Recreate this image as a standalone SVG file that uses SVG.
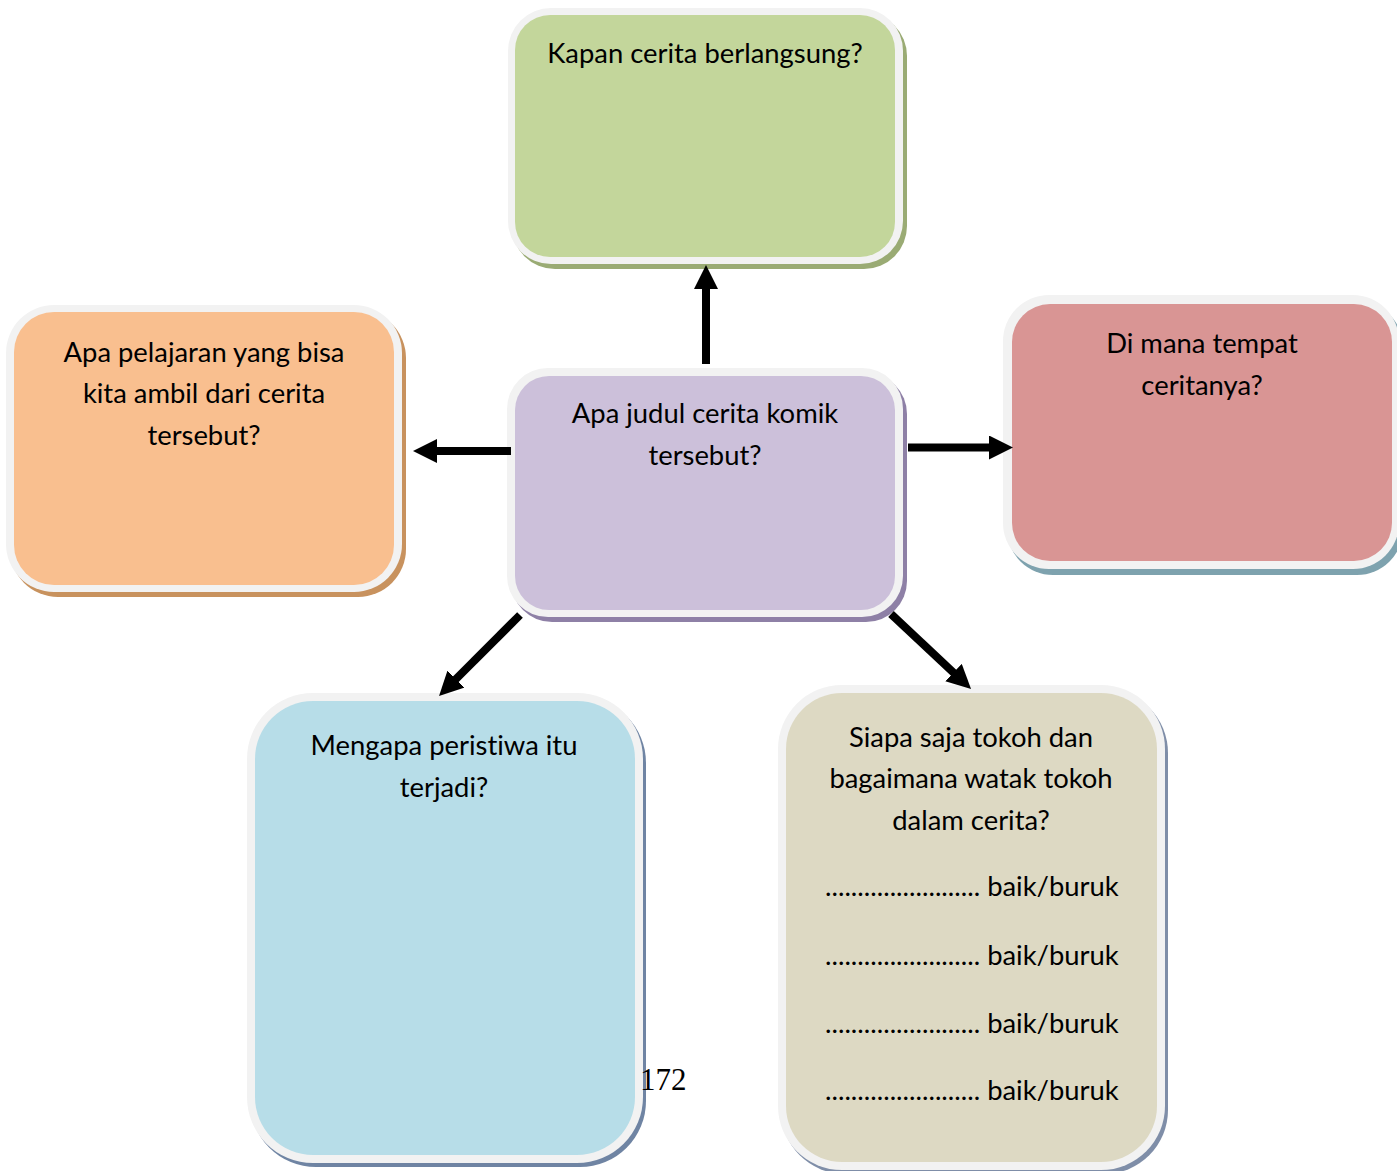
<svg xmlns="http://www.w3.org/2000/svg" width="1397" height="1171" viewBox="0 0 1397 1171">
<style>
.outer{fill:#f2f2f2}
.t{font-family:Lato,"Liberation Sans",sans-serif;font-size:27.4px;fill:#000;text-anchor:middle;font-variant-ligatures:none}
.tl{font-family:Lato,"Liberation Sans",sans-serif;font-size:27.4px;fill:#000;font-variant-ligatures:none}
.conn line{stroke:#000;stroke-width:8;marker-end:url(#ah)}
</style>
<defs>
<marker id="ah" markerUnits="userSpaceOnUse" markerWidth="24" markerHeight="24" viewBox="0 0 24 24" refX="12" refY="12" orient="auto">
<path d="M0,0 L24,12 L0,24 z" fill="#000"/>
</marker>
</defs>
<rect width="1397" height="1171" fill="#fff"/>

<g id="node-kapan">
<rect x="512" y="13" width="395" height="256" rx="43" fill="#9aab74"/>
<rect class="outer" x="508" y="8" width="395" height="256" rx="43"/>
<rect x="515" y="15" width="380" height="242" rx="35" fill="#c3d69b"/>
<text class="t" x="705" y="63">Kapan cerita berlangsung?</text>
</g>

<g id="node-judul">
<rect x="511" y="373" width="396" height="249" rx="41" fill="#8e80a6"/>
<rect class="outer" x="507" y="368" width="396" height="249" rx="41"/>
<rect x="515" y="376" width="380" height="234" rx="34" fill="#ccc0da"/>
<text class="t" x="705" y="423">Apa judul cerita komik</text>
<text class="t" x="705" y="465">tersebut?</text>
</g>

<g id="node-pelajaran">
<rect x="10" y="310" width="396" height="287" rx="48" fill="#c8925e"/>
<rect class="outer" x="6" y="305" width="396" height="287" rx="48"/>
<rect x="14" y="312" width="380" height="273" rx="40" fill="#f9bf8f"/>
<text class="t" x="204" y="362">Apa pelajaran yang bisa</text>
<text class="t" x="204" y="403">kita ambil dari cerita</text>
<text class="t" x="204" y="445">tersebut?</text>
</g>

<g id="node-tempat">
<rect x="1007" y="301" width="396" height="274" rx="46" fill="#7ea2ae"/>
<rect class="outer" x="1003" y="295" width="396" height="274" rx="46"/>
<rect x="1012" y="304" width="380" height="257" rx="38" fill="#d99594"/>
<text class="t" x="1202" y="353">Di mana tempat</text>
<text class="t" x="1202" y="395">ceritanya?</text>
</g>

<g id="node-mengapa">
<rect x="250" y="697" width="396" height="470" rx="66" fill="#6f84a3"/>
<rect class="outer" x="247" y="693" width="396" height="470" rx="66"/>
<rect x="255" y="701" width="380" height="454" rx="58" fill="#b7dde8"/>
<text class="t" x="444" y="755">Mengapa peristiwa itu</text>
<text class="t" x="444" y="797">terjadi?</text>
</g>

<g id="node-tokoh">
<rect x="781" y="689" width="387" height="485" rx="64" fill="#7f8ea8"/>
<rect class="outer" x="778" y="685" width="387" height="485" rx="64"/>
<rect x="786" y="693" width="371" height="469" rx="56" fill="#ddd9c3"/>
<text class="t" x="971" y="747">Siapa saja tokoh dan</text>
<text class="t" x="971" y="788">bagaimana watak tokoh</text>
<text class="t" x="971" y="830">dalam cerita?</text>
<text class="tl" x="825" y="896">........................ baik/buruk</text>
<text class="tl" x="825" y="965">........................ baik/buruk</text>
<text class="tl" x="825" y="1033">........................ baik/buruk</text>
<text class="tl" x="825" y="1100">........................ baik/buruk</text>
</g>

<g id="connectors" class="conn">
<line x1="706" y1="364" x2="706" y2="277"/>
<line x1="511" y1="451" x2="425" y2="451"/>
<line x1="908" y1="447.5" x2="1001" y2="447.5"/>
<line x1="520" y1="615" x2="447.5" y2="687.5"/>
<line x1="891" y1="614" x2="962.3" y2="680.8"/>
</g>

<text x="640" y="1090" font-family="'Liberation Serif',serif" font-size="31" fill="#000">172</text>
</svg>
